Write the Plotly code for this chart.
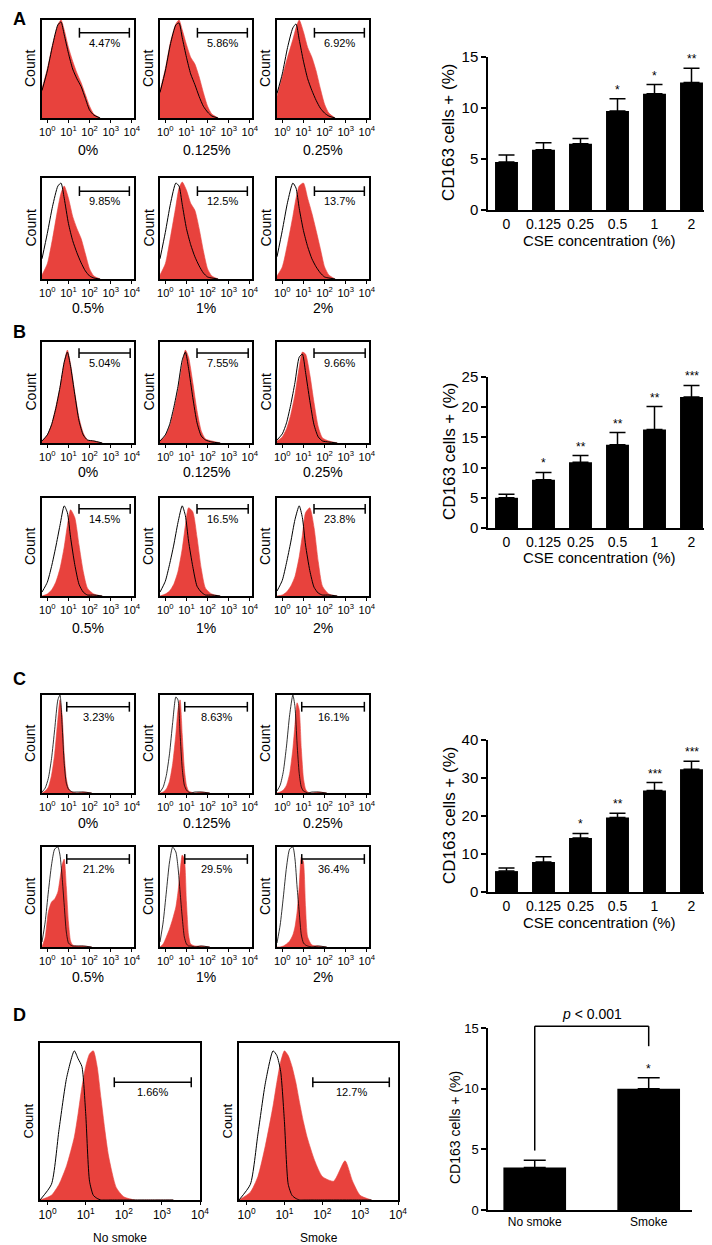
import plotly.graph_objects as go

# The page body adds an 8px margin, so the figure is 8px smaller and all
# layout pixel positions (measured on the 712x1245 page) are shifted by OFF.
PAGE_W, PAGE_H = 712, 1245
OFF = 8
W, H = PAGE_W - OFF, PAGE_H - OFF
RED = "#E8423D"
FONT = "Liberation Sans, Arial, sans-serif"

# ---------------- data ----------------
CONC_LABELS = ["0%", "0.125%", "0.25%", "0.5%", "1%", "2%"]
BAR_CATS = ["0", "0.125", "0.25", "0.5", "1", "2"]

A_PCT = ["4.47%", "5.86%", "6.92%", "9.85%", "12.5%", "13.7%"]
B_PCT = ["5.04%", "7.55%", "9.66%", "14.5%", "16.5%", "23.8%"]
C_PCT = ["3.23%", "8.63%", "16.1%", "21.2%", "29.5%", "36.4%"]
D_PCT = ["1.66%", "12.7%"]
D_LABELS = ["No smoke", "Smoke"]

A_MEAN = [4.7, 5.9, 6.5, 9.7, 11.4, 12.5]
A_ERR = [0.7, 0.7, 0.5, 1.2, 0.9, 1.4]
A_STARS = ["", "", "", "*", "*", "**"]
B_MEAN = [5.0, 8.0, 10.9, 13.8, 16.3, 21.7]
B_ERR = [0.6, 1.2, 1.1, 2.0, 3.8, 1.9]
B_STARS = ["", "*", "**", "**", "**", "***"]
C_MEAN = [5.5, 7.9, 14.2, 19.6, 26.7, 32.3]
C_ERR = [0.8, 1.4, 1.2, 1.1, 2.1, 2.1]
C_STARS = ["", "", "*", "**", "***", "***"]
D_MEAN = [3.5, 10.0]
D_ERR = [0.6, 0.9]
D_STARS = ["", "*"]
D_PVALUE = "<i>p</i> < 0.001"

# histogram bin positions (log10 of fluorescence) and relative counts
A_LOG = [-0.25, 0.0, 0.25, 0.5, 0.65, 0.8, 1.0, 1.2, 1.4, 1.6, 1.8, 2.0, 2.2, 2.5]
A_RED = [
    [0.30, 0.50, 0.75, 0.95, 1.00, 0.90, 0.72, 0.58, 0.46, 0.36, 0.24, 0.12, 0.04, 0.0],
    [0.28, 0.50, 0.78, 0.96, 1.00, 0.90, 0.75, 0.62, 0.55, 0.42, 0.26, 0.12, 0.04, 0.0],
    [0.22, 0.42, 0.62, 0.80, 0.92, 1.00, 0.88, 0.72, 0.62, 0.48, 0.30, 0.14, 0.05, 0.0],
    [0.04, 0.15, 0.40, 0.70, 0.85, 0.92, 0.80, 0.62, 0.50, 0.40, 0.25, 0.10, 0.03, 0.0],
    [0.04, 0.15, 0.42, 0.72, 0.90, 0.96, 0.88, 0.75, 0.68, 0.50, 0.28, 0.10, 0.03, 0.0],
    [0.03, 0.12, 0.35, 0.62, 0.80, 0.92, 0.95, 0.80, 0.65, 0.48, 0.30, 0.12, 0.04, 0.0],
]
A_BLACK = [
    [0.28, 0.48, 0.74, 0.95, 0.98, 0.85, 0.66, 0.50, 0.40, 0.32, 0.20, 0.08, 0.03, 0.0],
    [0.26, 0.48, 0.76, 0.95, 0.97, 0.82, 0.62, 0.45, 0.34, 0.22, 0.12, 0.06, 0.02, 0.0],
    [0.25, 0.45, 0.72, 0.92, 0.96, 0.80, 0.58, 0.40, 0.28, 0.18, 0.10, 0.05, 0.02, 0.0],
    [0.20, 0.45, 0.72, 0.92, 0.95, 0.80, 0.55, 0.38, 0.26, 0.16, 0.08, 0.03, 0.01, 0.0],
    [0.20, 0.46, 0.75, 0.95, 0.92, 0.74, 0.50, 0.34, 0.22, 0.13, 0.06, 0.02, 0.01, 0.0],
    [0.22, 0.48, 0.76, 0.95, 0.90, 0.70, 0.48, 0.32, 0.20, 0.12, 0.06, 0.02, 0.01, 0.0],
]

B_LOG = [-0.25, 0.0, 0.2, 0.4, 0.6, 0.8, 0.95, 1.1, 1.3, 1.5, 1.7, 1.9, 2.2, 2.6]
B_RED = [
    [0.02, 0.08, 0.18, 0.35, 0.55, 0.80, 0.92, 0.78, 0.50, 0.25, 0.10, 0.03, 0.02, 0.0],
    [0.02, 0.07, 0.16, 0.32, 0.52, 0.78, 0.92, 0.85, 0.60, 0.32, 0.12, 0.04, 0.02, 0.0],
    [0.02, 0.06, 0.14, 0.28, 0.48, 0.75, 0.90, 0.88, 0.68, 0.40, 0.16, 0.05, 0.02, 0.0],
    [0.00, 0.02, 0.06, 0.14, 0.28, 0.50, 0.72, 0.88, 0.80, 0.52, 0.25, 0.08, 0.02, 0.0],
    [0.00, 0.02, 0.05, 0.12, 0.25, 0.48, 0.72, 0.90, 0.86, 0.60, 0.28, 0.08, 0.02, 0.0],
    [0.00, 0.01, 0.04, 0.10, 0.20, 0.40, 0.62, 0.85, 0.90, 0.70, 0.35, 0.10, 0.02, 0.0],
]
B_BLACK = [
    [0.02, 0.08, 0.18, 0.34, 0.55, 0.80, 0.90, 0.76, 0.48, 0.22, 0.08, 0.03, 0.02, 0.0],
    [0.02, 0.08, 0.18, 0.35, 0.56, 0.82, 0.90, 0.74, 0.45, 0.20, 0.07, 0.03, 0.01, 0.0],
    [0.03, 0.09, 0.20, 0.38, 0.60, 0.85, 0.88, 0.70, 0.42, 0.18, 0.06, 0.02, 0.01, 0.0],
    [0.04, 0.14, 0.30, 0.50, 0.72, 0.92, 0.85, 0.60, 0.32, 0.12, 0.04, 0.01, 0.01, 0.0],
    [0.04, 0.15, 0.32, 0.52, 0.75, 0.92, 0.82, 0.56, 0.30, 0.10, 0.04, 0.01, 0.01, 0.0],
    [0.05, 0.16, 0.34, 0.55, 0.78, 0.92, 0.80, 0.52, 0.26, 0.09, 0.03, 0.01, 0.01, 0.0],
]

C_LOG = [-0.25, -0.1, 0.05, 0.2, 0.35, 0.5, 0.6, 0.7, 0.8, 0.9, 1.0, 1.1, 1.2, 1.4, 1.7, 2.1]
C_RED = [
    [0.0, 0.02, 0.06, 0.18, 0.40, 0.75, 0.95, 0.80, 0.40, 0.15, 0.05, 0.02, 0.01, 0.0, 0.01, 0.0],
    [0.0, 0.01, 0.04, 0.12, 0.30, 0.60, 0.85, 0.95, 0.60, 0.25, 0.08, 0.02, 0.01, 0.0, 0.01, 0.0],
    [0.0, 0.01, 0.03, 0.08, 0.20, 0.45, 0.70, 0.92, 0.85, 0.45, 0.15, 0.04, 0.01, 0.0, 0.01, 0.0],
    [0.0, 0.10, 0.35, 0.45, 0.48, 0.55, 0.68, 0.82, 0.88, 0.60, 0.25, 0.06, 0.02, 0.01, 0.01, 0.0],
    [0.0, 0.03, 0.10, 0.18, 0.28, 0.40, 0.55, 0.75, 0.92, 0.88, 0.45, 0.12, 0.03, 0.01, 0.01, 0.0],
    [0.0, 0.00, 0.01, 0.03, 0.06, 0.12, 0.20, 0.35, 0.60, 0.90, 0.85, 0.40, 0.10, 0.02, 0.01, 0.0],
]
C_BLACK = [
    [0.01, 0.05, 0.15, 0.35, 0.65, 0.95, 1.00, 0.70, 0.30, 0.10, 0.04, 0.02, 0.01, 0.01, 0.01, 0.0],
    [0.01, 0.06, 0.18, 0.40, 0.72, 0.98, 0.95, 0.60, 0.25, 0.08, 0.03, 0.01, 0.00, 0.01, 0.01, 0.0],
    [0.02, 0.08, 0.22, 0.48, 0.80, 1.00, 0.88, 0.50, 0.20, 0.06, 0.02, 0.01, 0.00, 0.01, 0.01, 0.0],
    [0.05, 0.25, 0.55, 0.82, 0.98, 1.00, 0.92, 0.70, 0.42, 0.15, 0.04, 0.02, 0.01, 0.01, 0.01, 0.0],
    [0.05, 0.25, 0.55, 0.85, 1.00, 0.95, 0.80, 0.55, 0.30, 0.10, 0.03, 0.01, 0.01, 0.00, 0.01, 0.0],
    [0.04, 0.22, 0.50, 0.80, 0.98, 1.00, 0.88, 0.60, 0.35, 0.12, 0.04, 0.02, 0.01, 0.00, 0.01, 0.0],
]

D_LOG = [-0.2, 0.1, 0.3, 0.5, 0.7, 0.8, 0.9, 1.0, 1.1, 1.2, 1.3, 1.4, 1.5, 1.6, 1.8, 2.0, 2.3, 2.6, 2.8, 3.0, 3.3]
D_RED = [
    [0.0, 0.03, 0.10, 0.22, 0.40, 0.55, 0.72, 0.85, 0.93, 0.95, 0.85, 0.65, 0.45, 0.28, 0.08, 0.02, 0.0, 0.0, 0.0, 0.0, 0.0],
    [0.0, 0.05, 0.15, 0.35, 0.60, 0.75, 0.88, 0.95, 0.92, 0.85, 0.75, 0.62, 0.50, 0.40, 0.25, 0.15, 0.12, 0.25, 0.12, 0.03, 0.0],
]
D_BLACK = [
    [0.0, 0.10, 0.45, 0.78, 0.95, 0.90, 0.85, 0.55, 0.12, 0.03, 0.01, 0.0, 0.0, 0.0, 0.0, 0.0, 0.0, 0.0, 0.0, 0.0, 0.0],
    [0.0, 0.10, 0.42, 0.75, 0.95, 0.92, 0.82, 0.50, 0.10, 0.03, 0.01, 0.0, 0.0, 0.0, 0.0, 0.0, 0.0, 0.0, 0.0, 0.0, 0.0],
]

# ---------------- figure scaffolding ----------------
layout = dict(
    width=W, height=H, autosize=False,
    margin=dict(l=0, r=0, t=0, b=0, pad=0, autoexpand=False),
    paper_bgcolor="white", plot_bgcolor="white", showlegend=False,
    font=dict(family=FONT, color="black"), annotations=[], shapes=[],
)
traces = []
_n = [0]


def fx(px):
    return (px - OFF) / W


def fy(py):
    return 1 - (py - OFF) / H


def new_axes(x0, x1, y0, y1):
    _n[0] += 1
    k = _n[0]
    sfx = "" if k == 1 else str(k)
    layout["xaxis" + sfx] = dict(domain=[fx(x0), fx(x1)], anchor="y" + sfx, automargin=False)
    layout["yaxis" + sfx] = dict(domain=[fy(y1), fy(y0)], anchor="x" + sfx, automargin=False)
    return "xaxis" + sfx, "yaxis" + sfx, "x" + sfx, "y" + sfx


def text(px, py, s, size, **kw):
    d = dict(xref="paper", yref="paper", x=fx(px), y=fy(py), text=s,
             showarrow=False, font=dict(size=size, family=FONT, color="black"),
             xanchor="center", yanchor="middle")
    d.update(kw)
    layout["annotations"].append(d)


TICKTEXT = ["10<sup>0</sup>", "10<sup>1</sup>", "10<sup>2</sup>", "10<sup>3</sup>", "10<sup>4</sup>"]


def histogram(box, logs, red, black, pct, gate, label, label_py, lrange,
              tick_size=11, pct_size=11, label_size=14, count_size=14, black_w=1.0):
    x0, x1, y0, y1 = box
    xa, ya, xr, yr = new_axes(x0, x1, y0, y1)
    layout[xa].update(type="log", range=lrange, showline=True, mirror=True,
                      linecolor="black", linewidth=1.5, ticks="outside", ticklen=3,
                      tickwidth=1, tickcolor="black", tickvals=[1, 10, 100, 1000, 10000],
                      ticktext=TICKTEXT, tickfont=dict(size=tick_size), showgrid=False,
                      zeroline=False)
    layout[ya].update(range=[0, 1.0], showline=True, mirror=True, linecolor="black",
                      linewidth=1.5, showticklabels=False, ticks="", showgrid=False,
                      zeroline=False)
    xs = [10 ** v for v in logs]
    traces.append(go.Scatter(x=xs, y=red, xaxis=xr, yaxis=yr, mode="lines",
                             fill="tozeroy", fillcolor=RED,
                             line=dict(color=RED, width=0.6, shape="spline", smoothing=0.6),
                             hoverinfo="skip"))
    traces.append(go.Scatter(x=xs, y=black, xaxis=xr, yaxis=yr, mode="lines",
                             line=dict(color="black", width=black_w, shape="spline", smoothing=0.6),
                             hoverinfo="skip"))
    glo, ghi, gy = gate
    traces.append(go.Scatter(x=[10 ** glo, 10 ** ghi], y=[gy, gy], xaxis=xr, yaxis=yr,
                             mode="lines+markers", line=dict(color="black", width=1.5),
                             marker=dict(symbol="line-ns-open", size=7,
                                         line=dict(color="black", width=1.5)),
                             hoverinfo="skip"))
    layout["annotations"].append(dict(xref=xr, yref=yr, x=(glo + ghi) / 2, y=gy,
                                      yanchor="top", yshift=-2, text=pct, showarrow=False,
                                      font=dict(size=pct_size, family=FONT, color="black")))
    text((x0 + x1) / 2, label_py, label, label_size)
    text(x0 - 12, (y0 + y1) / 2, "Count", count_size, textangle=-90)


def bar_chart(xpx, ypx, ymax, dtick, cats, mean, err, stars, xrange=None, width=0.62,
              xtick_size=14, ytick_size=15, cap=8, star_size=12):
    x0, x1 = xpx
    y0, y1 = ypx
    xa, ya, xr, yr = new_axes(x0, x1, y0, y1)
    rng = xrange if xrange else [-0.5, len(cats) - 0.5]
    layout[xa].update(type="category", showline=True, linecolor="black", linewidth=1.5,
                      ticks="", tickfont=dict(size=xtick_size), range=rng,
                      showgrid=False, zeroline=False)
    layout[ya].update(range=[0, ymax], dtick=dtick, tick0=0, showline=True,
                      linecolor="black", linewidth=1.5, ticks="outside", ticklen=5,
                      tickwidth=1.5, tickcolor="black", tickfont=dict(size=ytick_size),
                      showgrid=False, zeroline=False)
    traces.append(go.Bar(x=cats, y=mean, xaxis=xr, yaxis=yr, width=width,
                         marker=dict(color="black", line=dict(width=0)),
                         error_y=dict(type="data", symmetric=False, array=err,
                                      arrayminus=[0] * len(err), color="black",
                                      thickness=1.5, width=cap),
                         hoverinfo="skip"))
    for i, (m, e, s) in enumerate(zip(mean, err, stars)):
        if s:
            layout["annotations"].append(dict(xref=xr, yref=yr, x=i, y=m + e, yanchor="bottom",
                                              yshift=0, text=s, showarrow=False,
                                              font=dict(size=star_size, family=FONT, color="black")))

    def to_px(xv, yv):
        px = x0 + (xv - rng[0]) / (rng[1] - rng[0]) * (x1 - x0)
        py = y1 - yv / ymax * (y1 - y0)
        return px, py
    return to_px


# ---------------- histograms A-C ----------------
COLS = [(42, 134), (160, 252), (277, 369)]
HLRANGE = [-0.25, 4.1]

panels = [
    (A_LOG, A_RED, A_BLACK, A_PCT, [(20, 118), (178, 279)], [150, 308], (1.52, 3.88, 0.87)),
    (B_LOG, B_RED, B_BLACK, B_PCT, [(342, 443), (498, 596)], [472, 628], (1.50, 3.92, 0.89)),
    (C_LOG, C_RED, C_BLACK, C_PCT, [(695, 793), (847, 947)], [823, 977], (0.92, 3.88, 0.88)),
]
for logs, reds, blacks, pcts, rows, label_rows, gate in panels:
    for i in range(6):
        r, c = divmod(i, 3)
        bw = 0.8 if logs is C_LOG else 1.0
        histogram((COLS[c][0], COLS[c][1], rows[r][0], rows[r][1]), logs, reds[i], blacks[i],
                  pcts[i], gate, CONC_LABELS[i], label_rows[r], HLRANGE, black_w=bw)

# ---------------- histograms D ----------------
D_COLS = [(40, 200), (239, 398)]
for i in range(2):
    histogram((D_COLS[i][0], D_COLS[i][1], 1043, 1200), D_LOG, D_RED[i], D_BLACK[i], D_PCT[i],
              (1.75, 3.77, 0.75), D_LABELS[i], 1238, [-0.2, 4.0],
              tick_size=12, pct_size=11, label_size=12, count_size=13)

# ---------------- bar charts ----------------
bar_chart((488, 710), (57, 210), 15, 5, BAR_CATS, A_MEAN, A_ERR, A_STARS)
bar_chart((488, 710), (377, 528), 25, 5, BAR_CATS, B_MEAN, B_ERR, B_STARS)
bar_chart((488, 710), (740, 892), 40, 10, BAR_CATS, C_MEAN, C_ERR, C_STARS)
d_px = bar_chart((488, 692), (1028, 1210), 15, 5, D_LABELS, D_MEAN, D_ERR, D_STARS,
                 xrange=[-0.41, 1.38], width=0.55, xtick_size=12, ytick_size=13, cap=11)

for ymid in [133, 452, 816]:
    text(449, ymid, "CD163 cells + (%)", 17, textangle=-90)
text(455, 1127, "CD163 cells + (%)", 14, textangle=-90)
for ypx in [240, 557, 922]:
    text(599, ypx, "CSE concentration (%)", 15)

# p-value bracket for D (drawn in paper space so it may rise above the axis top)
top = 15.15
pts = [d_px(0, D_MEAN[0] + D_ERR[0] + 0.8), d_px(0, top), d_px(1, top),
       d_px(1, D_MEAN[1] + D_ERR[1] + 2.6)]
for (ax0, ay0), (ax1, ay1) in zip(pts[:-1], pts[1:]):
    layout["shapes"].append(dict(type="line", xref="paper", yref="paper",
                                 x0=fx(ax0), y0=fy(ay0), x1=fx(ax1), y1=fy(ay1),
                                 line=dict(color="black", width=1.5)))
px_mid, py_top = d_px(0.5, top)
text(px_mid, py_top - 12, D_PVALUE, 14)

# panel letters
for letter, py in [("A", 19), ("B", 332), ("C", 679), ("D", 1015)]:
    text(OFF + 3, py, "<b>%s</b>" % letter, 18, xanchor="left")

fig = go.Figure(data=traces, layout=layout)
fig.write_html("out.html")
